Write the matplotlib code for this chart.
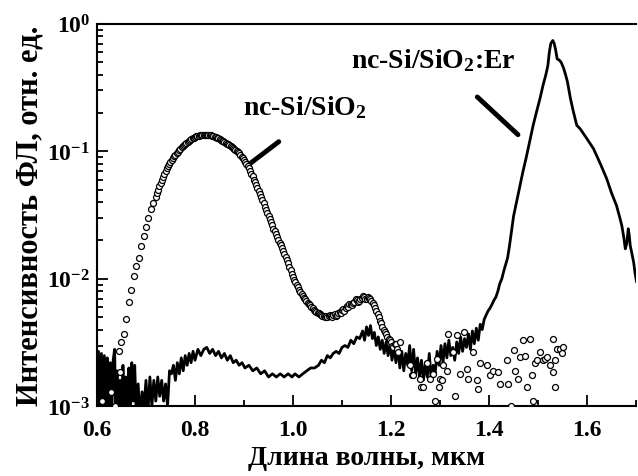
import matplotlib
matplotlib.use('Agg')
import numpy as np
from matplotlib import pyplot as plt
from matplotlib.ticker import LogLocator, MultipleLocator, NullFormatter

plt.rcParams['font.family'] = ['Liberation Serif', 'DejaVu Serif']
plt.rcParams['font.weight'] = 'bold'
plt.rcParams['mathtext.fontset'] = 'custom'
plt.rcParams['mathtext.rm'] = 'Liberation Serif:bold'
plt.rcParams['mathtext.it'] = 'Liberation Serif:bold:italic'
plt.rcParams['mathtext.bf'] = 'Liberation Serif:bold'

# nc-Si/SiO2 (circles): rising edge 0.645..0.720 um, step 0.005
si_wl_a = np.arange(0.645, 0.7201, 0.005)
si_int_a = [0.0027, 0.0032, 0.0037, 0.0048, 0.0066, 0.0082, 0.0105, 0.0127, 0.0147, 0.0180,
            0.0215, 0.0255, 0.0300, 0.0350, 0.0395, 0.0440]
# nc-Si/SiO2 (circles): 0.7225..1.215 um, step 0.0025
si_wl_b = np.arange(0.7225, 1.2151, 0.0025)
si_int_b = [0.0470, 0.0500, 0.0530, 0.0560, 0.0592, 0.0625, 0.0662, 0.0700, 0.0735, 0.0770,
            0.0800, 0.0830, 0.0860, 0.0890, 0.0912, 0.0935, 0.0962, 0.0990, 0.1017, 0.1045,
            0.1072, 0.1100, 0.1122, 0.1145, 0.1167, 0.1190, 0.1210, 0.1230, 0.1248, 0.1265,
            0.1280, 0.1295, 0.1308, 0.1320, 0.1328, 0.1335, 0.1340, 0.1345, 0.1348, 0.1350,
            0.1348, 0.1345, 0.1343, 0.1340, 0.1333, 0.1325, 0.1315, 0.1305, 0.1293, 0.1280,
            0.1265, 0.1250, 0.1233, 0.1215, 0.1198, 0.1180, 0.1165, 0.1150, 0.1135, 0.1120,
            0.1103, 0.1085, 0.1065, 0.1045, 0.1028, 0.1010, 0.0990, 0.0970, 0.0940, 0.0910,
            0.0880, 0.0850, 0.0822, 0.0795, 0.0770, 0.0745, 0.0707, 0.0670, 0.0635, 0.0600,
            0.0572, 0.0545, 0.0517, 0.0490, 0.0462, 0.0435, 0.0412, 0.0390, 0.0367, 0.0345,
            0.0327, 0.0310, 0.0294, 0.0278, 0.0263, 0.0248, 0.0236, 0.0225, 0.0212, 0.0200,
            0.0191, 0.0183, 0.0174, 0.0165, 0.0156, 0.0148, 0.0140, 0.0132, 0.0124, 0.0117,
            0.0110, 0.0103, 0.0098, 0.0094, 0.0090, 0.0086, 0.0082, 0.0079, 0.0076, 0.0074,
            0.0071, 0.0069, 0.0067, 0.0065, 0.0063, 0.0062, 0.0060, 0.0059, 0.0057, 0.0056,
            0.0055, 0.0054, 0.0054, 0.0053, 0.0052, 0.0051, 0.0051, 0.0050, 0.0051, 0.0050,
            0.0051, 0.0052, 0.0051, 0.0050, 0.0052, 0.0053, 0.0051, 0.0052, 0.0054, 0.0055,
            0.0054, 0.0057, 0.0058, 0.0056, 0.0059, 0.0061, 0.0060, 0.0063, 0.0064, 0.0062,
            0.0065, 0.0066, 0.0069, 0.0068, 0.0066, 0.0067, 0.0070, 0.0071, 0.0073, 0.0072,
            0.0070, 0.0070, 0.0072, 0.0071, 0.0069, 0.0067, 0.0065, 0.0062, 0.0059, 0.0056,
            0.0053, 0.0050, 0.0047, 0.0045, 0.0042, 0.0040, 0.0038, 0.0037, 0.0035, 0.0034,
            0.0033, 0.0032, 0.0030, 0.0029, 0.0031, 0.0031, 0.0028, 0.0026]
n_b = min(len(si_wl_b), len(si_int_b))

# nc-Si/SiO2, noisy points near the noise floor
si_tail_wl = [0.610, 0.628, 0.636, 0.647, 1.215, 1.218, 1.239, 1.242, 1.245, 1.259, 1.262, 1.266,
              1.273, 1.280, 1.286, 1.293, 1.297, 1.300, 1.303, 1.307, 1.314, 1.317, 1.327,
              1.334, 1.341, 1.348, 1.354, 1.358, 1.368, 1.375, 1.378, 1.382, 1.395, 1.402,
              1.409, 1.419, 1.422, 1.436, 1.439, 1.450, 1.453, 1.460, 1.463, 1.470, 1.473,
              1.477, 1.484, 1.487, 1.494, 1.497, 1.504, 1.511, 1.514, 1.518, 1.524, 1.531,
              1.531, 1.535, 1.535, 1.538, 1.545, 1.548, 1.551, 1.290, 1.330, 1.445, 1.490]
si_tail_int = [0.0011, 0.0013, 0.0010, 0.00185, 0.00265, 0.0032, 0.0021, 0.00175, 0.00175,
               0.00165, 0.00142, 0.00142, 0.0022, 0.00165, 0.0018, 0.00235, 0.00142, 0.00165,
               0.0016, 0.0021, 0.0019, 0.0037, 0.00265, 0.0036, 0.0018, 0.0038, 0.00195,
               0.00165, 0.00265, 0.0016, 0.00138, 0.0022, 0.0021, 0.00175, 0.0019, 0.00185,
               0.0015, 0.0023, 0.0015, 0.00275, 0.0019, 0.00165, 0.00245, 0.0033, 0.0025,
               0.00142, 0.0034, 0.00175, 0.0022, 0.0023, 0.00265, 0.0023, 0.00235, 0.00245,
               0.0021, 0.0034, 0.00185, 0.0023, 0.00142, 0.0028, 0.0028, 0.0026, 0.0029,
               0.0011, 0.0012, 0.0010, 0.0011]

# nc-Si/SiO2:Er (solid line)
er_wl = [0.600, 0.603, 0.606, 0.609, 0.612, 0.615, 0.618, 0.621, 0.624, 0.627, 0.630, 0.633,
         0.636, 0.638, 0.641, 0.644, 0.647, 0.650, 0.653, 0.656, 0.659, 0.662, 0.665, 0.668,
         0.671, 0.674, 0.677, 0.680, 0.684, 0.688, 0.692, 0.696, 0.700, 0.704, 0.708, 0.712,
         0.716, 0.720, 0.724, 0.728, 0.732, 0.736, 0.740, 0.744, 0.748,
         0.752, 0.756, 0.760, 0.764, 0.768, 0.772, 0.776, 0.780, 0.784, 0.788, 0.792, 0.796,
         0.800, 0.806, 0.812, 0.818, 0.824, 0.830, 0.836, 0.842, 0.848, 0.854, 0.860, 0.866,
         0.872, 0.878, 0.884, 0.890, 0.896, 0.902, 0.910, 0.918, 0.926, 0.934, 0.942, 0.950,
         0.958, 0.966, 0.974, 0.982, 0.990, 0.998,
         1.004, 1.012, 1.020, 1.028, 1.036, 1.044, 1.052, 1.058, 1.064, 1.070, 1.076, 1.082,
         1.088, 1.094, 1.100, 1.106, 1.112, 1.118, 1.124, 1.130, 1.136, 1.142, 1.146, 1.150,
         1.154, 1.158, 1.162, 1.166, 1.170, 1.174, 1.178, 1.182, 1.186, 1.190, 1.194, 1.198,
         1.202, 1.206, 1.210, 1.214, 1.218, 1.222, 1.226, 1.230, 1.234, 1.238, 1.242, 1.246,
         1.250, 1.254, 1.258, 1.262, 1.266, 1.270, 1.274, 1.278, 1.282, 1.286, 1.290, 1.294,
         1.298, 1.302, 1.306, 1.310, 1.314, 1.318, 1.322, 1.326, 1.330, 1.334, 1.338, 1.342,
         1.346, 1.350, 1.354, 1.358, 1.362, 1.366, 1.370, 1.374, 1.378, 1.382, 1.386, 1.390,
         1.394, 1.398, 1.402, 1.406, 1.410, 1.414, 1.418, 1.422, 1.426, 1.430, 1.434, 1.438,
         1.442, 1.446, 1.450, 1.456, 1.462, 1.469, 1.476, 1.483, 1.490, 1.497, 1.504, 1.510,
         1.516, 1.520, 1.523, 1.526, 1.530, 1.533, 1.536, 1.539, 1.543, 1.547, 1.552, 1.556,
         1.560, 1.566, 1.572, 1.579, 1.586, 1.600, 1.613, 1.627, 1.640, 1.650, 1.660, 1.666,
         1.671, 1.675, 1.678, 1.681, 1.684, 1.686, 1.688, 1.691, 1.695, 1.698, 1.701]
er_int = [0.0009, 0.0027, 0.0008, 0.0026, 0.0009, 0.0025, 0.0008, 0.0024, 0.0010, 0.0022,
          0.0008, 0.0023, 0.0028, 0.0009, 0.0019, 0.0008, 0.0016, 0.0009, 0.0021, 0.0010,
          0.0017, 0.0008, 0.0020, 0.0010, 0.0022, 0.0011, 0.0021, 0.0009, 0.0015, 0.0008,
          0.0013, 0.0010, 0.0016, 0.0009, 0.0017, 0.0010, 0.0016, 0.0011, 0.0017, 0.0012,
          0.0016, 0.0011, 0.0015, 0.0010, 0.0019,
          0.0018, 0.0021, 0.0016, 0.0022, 0.0018, 0.0024, 0.0019, 0.0025, 0.0021, 0.0026,
          0.0022, 0.0027, 0.0023, 0.0028, 0.0025, 0.0028, 0.0029, 0.0026, 0.0028, 0.0025,
          0.0027, 0.0024, 0.0026, 0.0023, 0.0025, 0.0022, 0.0023, 0.0021, 0.0022, 0.0020,
          0.0021, 0.0019, 0.0020, 0.0018, 0.0019, 0.0017, 0.0018, 0.0017, 0.0018, 0.0017,
          0.0018, 0.0017,
          0.0018, 0.0017, 0.0018, 0.0019, 0.0020, 0.0020, 0.0021, 0.0023, 0.0022, 0.0025,
          0.0024, 0.0026, 0.0027, 0.0026, 0.0029, 0.0030, 0.0029, 0.0033, 0.0031, 0.0035,
          0.0034, 0.0039, 0.0033, 0.0042, 0.0036, 0.0043, 0.0034, 0.0038, 0.0030, 0.0035,
          0.0028, 0.0033, 0.0026, 0.0032, 0.0025, 0.0031, 0.0023, 0.0030, 0.0022, 0.0029,
          0.0020, 0.0027, 0.0019, 0.0026, 0.0021, 0.0030, 0.0019, 0.0028, 0.0018, 0.0024,
          0.0017, 0.0023, 0.0016, 0.0022, 0.0017, 0.0026, 0.0016, 0.0021, 0.0018, 0.0027,
          0.0021, 0.0030, 0.0022, 0.0031, 0.0024, 0.0033, 0.0025, 0.0029, 0.0023, 0.0032,
          0.0026, 0.0035, 0.0027, 0.0034, 0.0029, 0.0037, 0.0028, 0.0039, 0.0031, 0.0041,
          0.0033, 0.0044, 0.0040, 0.0048, 0.0052, 0.0056, 0.0059, 0.0063, 0.0068, 0.0072,
          0.0080, 0.0092, 0.0100, 0.0115, 0.0130, 0.0147, 0.0185, 0.0240, 0.0310, 0.040,
          0.052, 0.069, 0.090, 0.120, 0.160, 0.205, 0.260, 0.328, 0.400, 0.470, 0.600,
          0.700, 0.740, 0.700, 0.620, 0.530, 0.520, 0.500, 0.450, 0.400, 0.350, 0.260,
          0.205, 0.160, 0.150, 0.125, 0.105, 0.080, 0.061, 0.047, 0.0376, 0.031, 0.026,
          0.021, 0.0172, 0.019, 0.0247, 0.022, 0.0183, 0.016, 0.0135, 0.011, 0.0095]

# labels and their pointer strokes
lab_si = 'nc-Si/SiO$_2$'
lab_er = 'nc-Si/SiO$_2$:Er'
ptr_si_x, ptr_si_y = [0.912, 0.971], [0.080, 0.119]
ptr_er_x, ptr_er_y = [1.376, 1.459], [0.267, 0.135]

fig = plt.figure(figsize=(6.38, 4.77), dpi=100)
ax = fig.add_axes([0.152, 0.146, 0.845, 0.802])

circ = dict(linestyle='none', marker='o', mfc='white', mec='black', ms=4.3, mew=0.9, zorder=4)
ax.plot(er_wl, er_int, '-', color='black', lw=2.0, zorder=3)
ax.plot(si_wl_a[:len(si_int_a)], si_int_a, **circ)
ax.plot(si_wl_b[:n_b], si_int_b[:n_b], **circ)
ax.plot(si_tail_wl, si_tail_int, **circ)

ax.plot(ptr_si_x, ptr_si_y, '-', color='black', lw=3.5, solid_capstyle='round')
ax.plot(ptr_er_x, ptr_er_y, '-', color='black', lw=3.5, solid_capstyle='round')
ax.text(0.898, 0.197, lab_si, fontsize=20, fontweight='bold', va='baseline')
ax.text(1.118, 0.46, lab_er, fontsize=20, fontweight='bold', va='baseline')

ax.set_yscale('log')
ax.set_xlim(0.6, 1.7)
ax.set_ylim(1e-3, 1)
ax.xaxis.set_major_locator(MultipleLocator(0.2))
ax.xaxis.set_minor_locator(MultipleLocator(0.1))
ax.xaxis.set_major_formatter(plt.FuncFormatter(lambda v, p: '%.1f' % v))
ax.yaxis.set_major_locator(LogLocator(base=10))
ax.yaxis.set_minor_locator(LogLocator(base=10, subs=np.arange(2, 10)))
ax.yaxis.set_minor_formatter(NullFormatter())
ax.tick_params(which='both', direction='in', labelsize=17, width=1.3)
ax.tick_params(which='major', length=8)
ax.tick_params(which='minor', length=4)
ax.tick_params(axis='x', which='major', pad=9)
ax.tick_params(axis='y', which='major', pad=5)
for s in ['left', 'bottom', 'top']:
    ax.spines[s].set_linewidth(1.5)
ax.spines['right'].set_visible(False)

ax.set_xlabel('Длина волны, мкм', fontsize=20, fontweight='bold', labelpad=4)
ax.set_ylabel('Интенсивность ФЛ, отн. ед.', fontsize=22, fontweight='bold', labelpad=2)

fig.savefig('out.png', dpi=100)
